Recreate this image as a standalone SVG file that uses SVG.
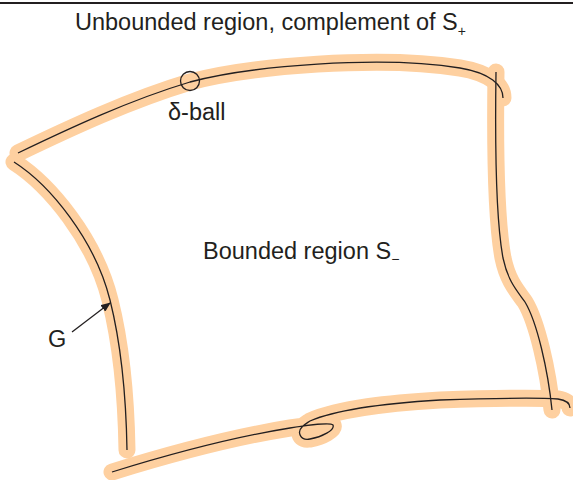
<svg xmlns="http://www.w3.org/2000/svg" width="573" height="480" viewBox="0 0 573 480">
<style>
.band{fill:none;stroke:#FED0A0;stroke-width:17;stroke-linecap:round;stroke-linejoin:round}
.curve{fill:none;stroke:#231F20;stroke-width:1.3}
.lbl{font-family:"Liberation Sans",Arial,sans-serif;font-size:23.5px;fill:#231F20}
.sub{font-size:14px}
</style>
<defs>
<marker id="ah" markerWidth="10" markerHeight="8" refX="9" refY="4" orient="auto" markerUnits="userSpaceOnUse">
<path d="M0,0 L10,4 L0,8 Z" fill="#231F20"/>
</marker>
</defs>
<rect width="573" height="480" fill="#fff"/>
<line x1="0" y1="3" x2="573" y2="3" stroke="#231F20" stroke-width="2"/>
<g id="bands">
<path class="band" d="M18,153 C70,128 130,100 190,82 C250,66 380,55 460,68 C490,73 503,85 503,98"/>
<path class="band" d="M496,72 C495,140 496,220 503,258 C508,282 518,292 525,302 C537,322 548,370 552,410"/>
<path class="band" d="M14,162 C50,185 95,240 110,300 C120,340 126,390 127,450"/>
<path class="band" d="M112,472 C170,454 240,436 290,428 C310,425 330,422 333,425 C335,430 322,437 310,439 C300,441 297,432 302,427 C305,424 307,423 310,421 C340,408 390,403 440,400 C500,398 545,398 558,399 C565,400 570,403 570,408"/>
</g>
<g id="connectors">
<path class="curve" d="M18,153 C70,128 130,100 190,82 C250,66 380,55 460,68 C490,73 503,85 503,98"/>
<path class="curve" d="M496,72 C495,140 496,220 503,258 C508,282 518,292 525,302 C537,322 548,370 552,410"/>
<path class="curve" d="M14,162 C50,185 95,240 110,300 C120,340 126,390 127,450"/>
<path class="curve" d="M112,472 C170,454 240,436 290,428 C310,425 330,422 333,425 C335,430 322,437 310,439 C300,441 297,432 302,427 C305,424 307,423 310,421 C340,408 390,403 440,400 C500,398 545,398 558,399 C565,400 570,403 570,408"/>
<line x1="72" y1="332" x2="110" y2="303" stroke="#231F20" stroke-width="1.3" marker-end="url(#ah)"/>
</g>
<g id="delta-ball">
<circle cx="190" cy="81" r="9.5" fill="none" stroke="#231F20" stroke-width="1.3"/>
<text class="lbl" x="168" y="120">δ-ball</text>
</g>
<g id="unbounded">
<text class="lbl" x="75" y="30">Unbounded region, complement of S<tspan class="sub" dy="6">+</tspan></text>
</g>
<g id="bounded">
<text class="lbl" x="203" y="259">Bounded region S<tspan class="sub" dy="5">−</tspan></text>
</g>
<g id="G">
<text class="lbl" x="48" y="347">G</text>
</g>
</svg>
